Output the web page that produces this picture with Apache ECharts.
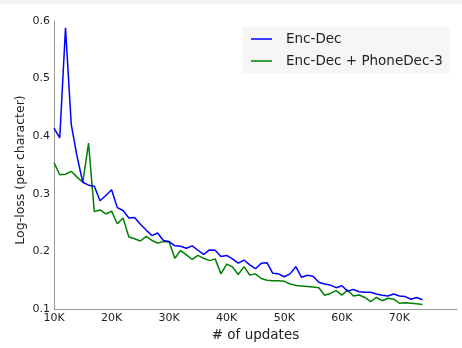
<!DOCTYPE html>
<html>
<head>
<meta charset="utf-8">
<script src="https://cdn.jsdelivr.net/npm/echarts@6/dist/echarts.min.js"></script>
<style>
  html, body { margin: 0; padding: 0; background: #ffffff; }
  #chart { width: 462px; height: 348px; }
</style>
</head>
<body>
<div id="chart"></div>
<script>
// Training updates (thousands)
const updatesK = [10, 11, 12, 13, 14, 15, 16, 17, 18, 19, 20, 21, 22, 23, 24, 25, 26, 27, 28, 29,
  30, 31, 32, 33, 34, 35, 36, 37, 38, 39, 40, 41, 42, 43, 44, 45, 46, 47, 48, 49,
  50, 51, 52, 53, 54, 55, 56, 57, 58, 59, 60, 61, 62, 63, 64, 65, 66, 67, 68, 69,
  70, 71, 72, 73, 74];

// Log-loss per character, Enc-Dec
const encDec = [0.414, 0.397, 0.588, 0.420, 0.365, 0.320, 0.315, 0.313, 0.288, 0.297,
  0.307, 0.276, 0.271, 0.258, 0.259, 0.247, 0.237, 0.2275, 0.232, 0.219,
  0.217, 0.2096, 0.209, 0.2055, 0.2096, 0.202, 0.195, 0.2026, 0.202, 0.191,
  0.193, 0.187, 0.1795, 0.185, 0.1765, 0.170, 0.1795, 0.1805, 0.162, 0.161,
  0.156, 0.161, 0.1735, 0.155, 0.1585, 0.157, 0.1465, 0.1435, 0.1415, 0.137,
  0.1405, 0.131, 0.134, 0.130, 0.129, 0.129, 0.126, 0.124, 0.1226, 0.126,
  0.1226, 0.1215, 0.117, 0.120, 0.116];

// Log-loss per character, Enc-Dec + PhoneDec-3
const encDecPhone = [0.354, 0.333, 0.334, 0.339, 0.329, 0.320, 0.388, 0.269, 0.272, 0.265,
  0.270, 0.248, 0.258, 0.225, 0.222, 0.218, 0.226, 0.219, 0.2145, 0.217,
  0.2165, 0.188, 0.2015, 0.194, 0.186, 0.193, 0.188, 0.184, 0.187, 0.161,
  0.178, 0.173, 0.160, 0.1735, 0.159, 0.161, 0.153, 0.150, 0.149, 0.149,
  0.148, 0.1435, 0.141, 0.140, 0.139, 0.138, 0.137, 0.124, 0.127, 0.132,
  0.124, 0.133, 0.1226, 0.1243, 0.120, 0.1127, 0.120, 0.1144, 0.1186, 0.117,
  0.110, 0.111, 0.110, 0.109, 0.108];

const xTickLabels = ['10K', '20K', '30K', '40K', '50K', '60K', '70K'];
const yTickLabels = ['0.1', '0.2', '0.3', '0.4', '0.5', '0.6'];
const seriesNames = ['Enc-Dec', 'Enc-Dec + PhoneDec-3'];

const FONT = 'DejaVu Sans';
const chart = echarts.init(document.getElementById('chart'), null, { renderer: 'canvas' });

const pairs = (ys) => updatesK.map((x, i) => [x, ys[i]]);

// Plain line swatch for the legend entries
const LINE_ICON = 'path://M0,0 L21,0 L21,1.5 L0,1.5 Z';

chart.setOption({
  animation: false,
  backgroundColor: '#ffffff',
  graphic: [
    { type: 'rect', shape: { x: 0, y: 0, width: 462, height: 4 }, style: { fill: '#f4f4f4' }, silent: true }
  ],
  grid: { left: 54, right: 5, top: 21, bottom: 39, containLabel: false, outerBoundsMode: 'none' },
  legend: {
    left: 242,
    top: 27,
    orient: 'vertical',
    backgroundColor: '#f6f6f6',
    padding: [5, 7, 5, 9],
    itemWidth: 21,
    itemHeight: 14,
    itemGap: 8,
    icon: LINE_ICON,
    textStyle: { fontFamily: FONT, fontSize: 13.5, color: '#222', padding: [0, 0, 0, 9] },
    data: seriesNames
  },
  xAxis: {
    type: 'value',
    min: 10,
    max: 80,
    interval: 10,
    name: '# of updates',
    nameLocation: 'middle',
    nameGap: 18,
    nameTextStyle: { fontFamily: FONT, fontSize: 13.5, color: '#222' },
    axisLine: { show: true, lineStyle: { color: '#999', width: 1 } },
    axisTick: { show: false },
    splitLine: { show: false },
    axisLabel: {
      showMaxLabel: false,
      margin: 4,
      fontFamily: FONT, fontSize: 11, color: '#222',
      formatter: (v) => xTickLabels[Math.round((v - 10) / 10)] || ''
    }
  },
  yAxis: {
    type: 'value',
    min: 0.1,
    max: 0.6,
    interval: 0.1,
    name: 'Log-loss (per character)',
    nameLocation: 'middle',
    nameMoveOverlap: false,
    nameGap: 27,
    nameTextStyle: { fontFamily: FONT, fontSize: 12.5, color: '#222', padding: [0, 10, 0, 0] },
    axisLine: { show: true, lineStyle: { color: '#999', width: 1 } },
    axisTick: { show: false },
    splitLine: { show: false },
    axisLabel: {
      margin: 4,
      fontFamily: FONT, fontSize: 11, color: '#222',
      formatter: (v) => yTickLabels[Math.round((v - 0.1) / 0.1)] || ''
    }
  },
  series: [
    {
      name: seriesNames[0],
      type: 'line',
      data: pairs(encDec),
      symbol: 'none',
      lineStyle: { color: '#0000ff', width: 1.5 },
      itemStyle: { color: '#0000ff' },
      z: 3
    },
    {
      name: seriesNames[1],
      type: 'line',
      data: pairs(encDecPhone),
      symbol: 'none',
      lineStyle: { color: '#008000', width: 1.5 },
      itemStyle: { color: '#008000' },
      z: 2
    }
  ]
});
</script>
</body>
</html>
